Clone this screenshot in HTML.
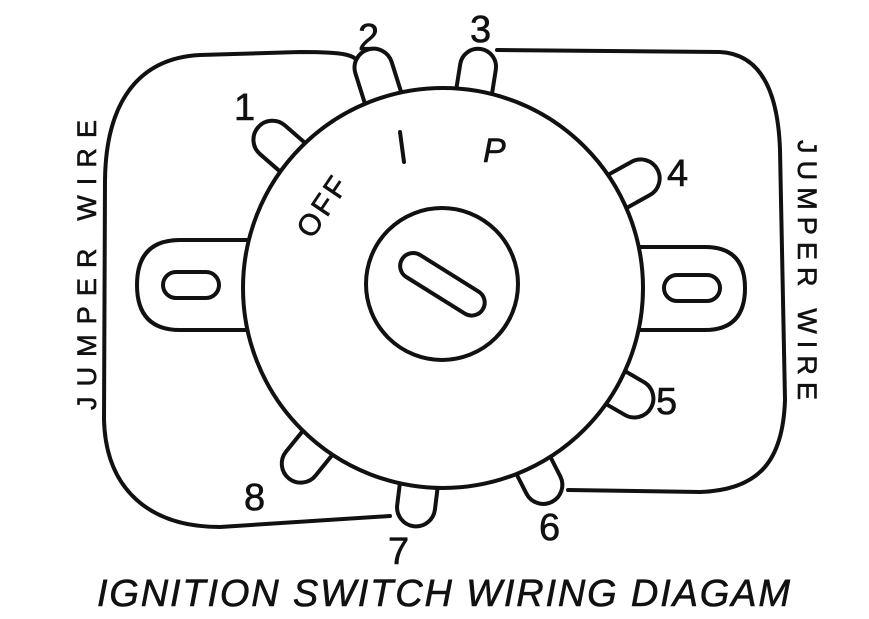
<!DOCTYPE html>
<html><head><style>
html,body{margin:0;padding:0;background:#fff;}
svg{display:block;}
text{font-family:"Liberation Sans","DejaVu Sans",sans-serif;fill:#111;stroke:#111;stroke-width:0.6;}
</style></head><body>
<svg width="869" height="619" viewBox="0 0 869 619" xmlns="http://www.w3.org/2000/svg">
<g fill="none" stroke="#111" stroke-width="4" stroke-linecap="round" stroke-linejoin="round">
<path d="M362,66 C355,54 345,52 300,52 L200,55 C140,58 106,100 105,180 L104,420 C106,490 150,527 220,527 L390,516"/>
<path d="M497,50 L720,52 C760,54 778,90 780,150 L785,400 C783,460 760,490 700,492 L568,490"/>
<path d="M250,240 L180,240 Q137,240 137,285 Q137,330 180,330 L250,330" fill="#fff"/>
<rect x="163" y="272" width="56" height="26" rx="13" fill="#fff"/>
<path d="M635,247 L705,247 Q745,247 745,288 Q745,330 705,330 L635,330" fill="#fff"/>
<rect x="664" y="275" width="56" height="26" rx="13" fill="#fff"/>
<g transform="translate(443,288)" fill="#fff">
<rect x="-19" y="-250" width="38" height="70" rx="19" transform="rotate(-17.5)"/>
<rect x="-18" y="-242" width="36" height="62" rx="18" transform="rotate(9)"/>
<rect x="-19" y="-245" width="38" height="70" rx="19" transform="rotate(-49)"/>
<rect x="-19" y="-245" width="38" height="70" rx="19" transform="rotate(61)"/>
<rect x="-19" y="-240" width="38" height="65" rx="19" transform="rotate(120)"/>
<rect x="-19" y="-240" width="38" height="65" rx="19" transform="rotate(153)"/>
<rect x="-19" y="-240" width="38" height="65" rx="19" transform="rotate(187)"/>
<rect x="-19" y="-245" width="38" height="70" rx="19" transform="rotate(219)"/>
</g>
<circle cx="443" cy="288" r="200" fill="#fff"/>
<circle cx="442" cy="284" r="76"/>
<rect x="395" y="271" width="95" height="26" rx="13" transform="rotate(32 442 284)"/>
</g>
<g font-size="38">
<text x="234" y="120">1</text>
<text x="358" y="50">2</text>
<text x="470" y="42">3</text>
<text x="667" y="186">4</text>
<text x="656" y="414">5</text>
<text x="539" y="540">6</text>
<text x="388" y="564">7</text>
<text x="244" y="510">8</text>
</g>
<text font-size="30" transform="translate(312,240) rotate(-56)" letter-spacing="3">OFF</text>
<path d="M400,132 L404,162" stroke="#111" stroke-width="4" stroke-linecap="round"/>
<text x="483" y="162" font-size="34" font-style="italic">P</text>
<text font-size="27" textLength="290" lengthAdjust="spacing" transform="translate(96,410) rotate(-90)">JUMPER  WIRE</text>
<text font-size="27" textLength="260" lengthAdjust="spacing" transform="translate(798,140) rotate(90)">JUMPER  WIRE</text>
<text x="97" y="606" font-size="38" font-style="italic" textLength="693" lengthAdjust="spacing">IGNITION  SWITCH  WIRING  DIAGAM</text>
</svg>
</body></html>
